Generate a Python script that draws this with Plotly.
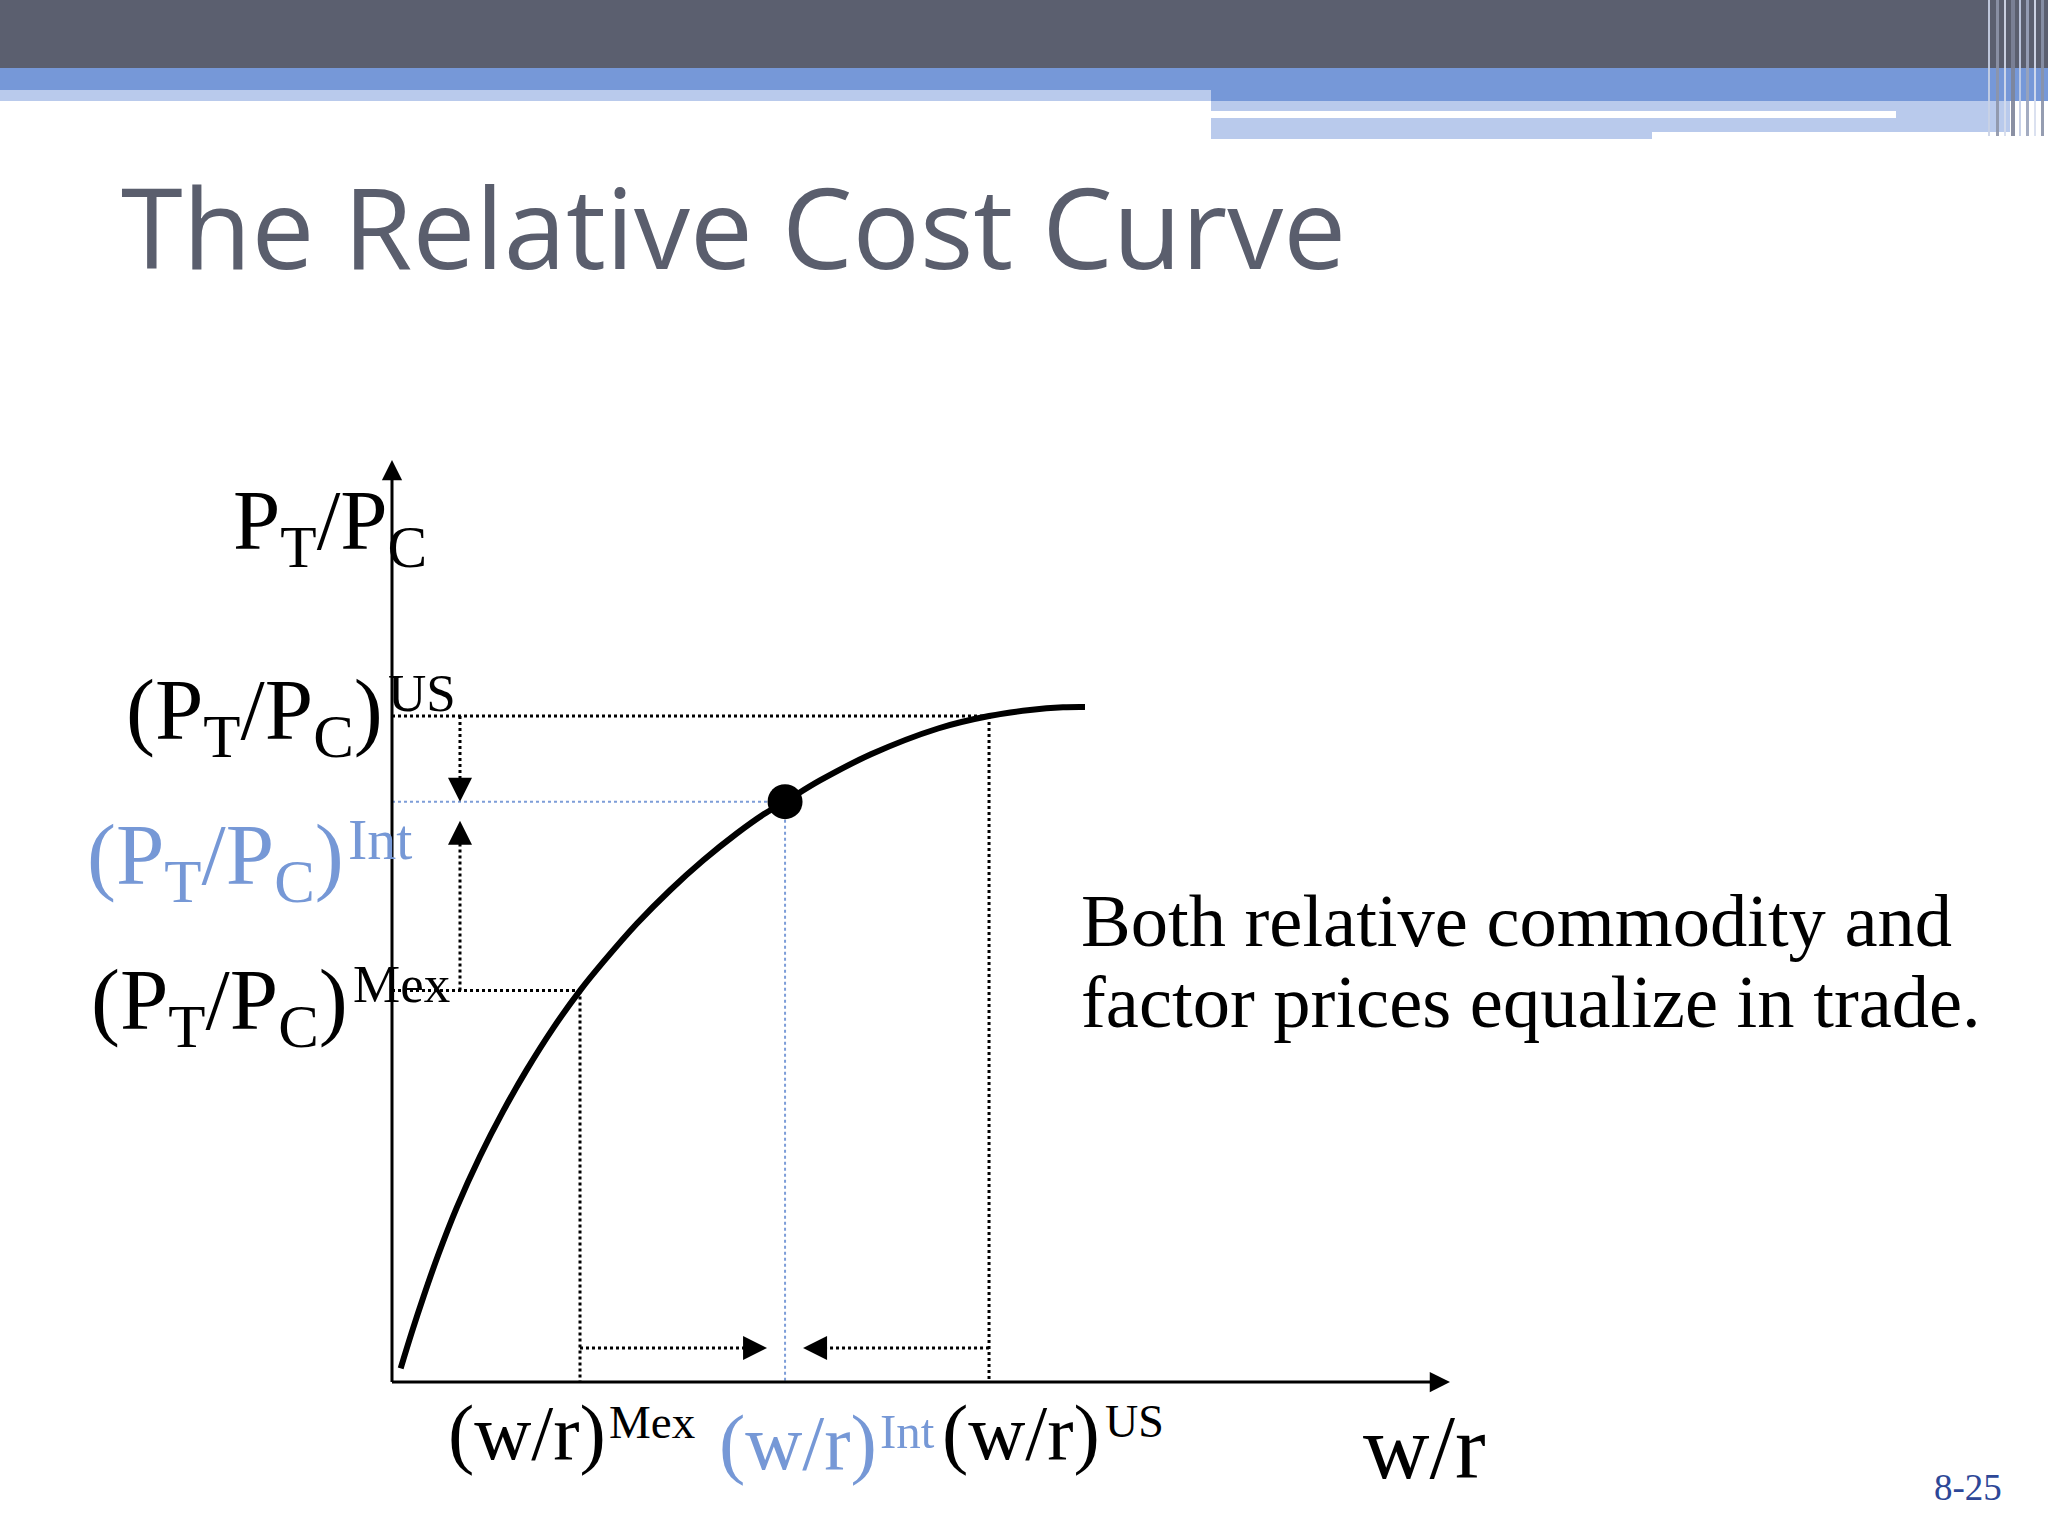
import plotly.graph_objects as go

W, H = 2048, 1536

# ---------------- data (logical units: w/r on x, PT/PC on y) ----------------
curve_wr = [0.082, 0.186, 0.296, 0.438, 0.612, 0.832, 1.052, 1.273, 1.525, 1.777,
            1.997, 2.313, 2.628, 2.942, 3.258, 3.509, 3.715, 4.045, 4.527, 5.161,
            5.643, 6.030, 6.342, 6.550]
curve_p = [0.149, 0.536, 0.920, 1.383, 1.892, 2.448, 2.940, 3.385, 3.841, 4.245,
           4.556, 4.970, 5.334, 5.659, 5.949, 6.154, 6.294, 6.524, 6.808, 7.088,
           7.223, 7.289, 7.318, 7.321]
countries = ["Mex", "Int", "US"]
wr_vals = [1.777, 3.715, 5.643]      # (w/r)^Mex, (w/r)^Int, (w/r)^US
p_vals = [4.245, 6.294, 7.223]       # (PT/PC)^Mex, (PT/PC)^Int, (PT/PC)^US
axis_max_wr = 10.0
axis_max_p = 10.0

title_text = "The Relative Cost Curve"
note_lines = ["Both relative commodity and", "factor prices equalize in trade."]
page_label = "8-25"

# ---------------- layout geometry ----------------
X0_PX, XMAX_PX = 392, 1450      # pixel of w/r = 0 and of w/r = axis_max
Y0_PX, YMAX_PX = 1382, 460      # pixel of PT/PC = 0 and of PT/PC = axis_max
kx = (XMAX_PX - X0_PX) / axis_max_wr
ky = (Y0_PX - YMAX_PX) / axis_max_p
x_range = [(0 - X0_PX) / kx, (W - X0_PX) / kx]
y_range = [(Y0_PX - H) / ky, Y0_PX / ky]


def dx(px):  # pixel distance -> data x distance
    return px / kx


def dy(px):
    return px / ky


def px_(x):  # pixel -> paper
    return x / W


def py_(y):
    return 1 - y / H


wr_mex, wr_int, wr_us = wr_vals
p_mex, p_int, p_us = p_vals

BLACK = "#000000"
BLUE = "#7698d6"
BLUE_LINE = "#7d9dd8"
DARK = "#5b5f6f"
MID = "#7698d8"
LIGHT = "#b9caec"

fig = go.Figure()

# curve
fig.add_trace(go.Scatter(x=curve_wr, y=curve_p, mode="lines",
                         line=dict(color=BLACK, width=6, shape="spline", smoothing=1.0),
                         hoverinfo="skip", showlegend=False))
# equilibrium point
fig.add_trace(go.Scatter(x=[wr_int], y=[p_int], mode="markers",
                         marker=dict(color=BLACK, size=35, line=dict(width=0)),
                         hoverinfo="skip", showlegend=False))

shapes = []


def dline(x0, y0, x1, y1, color=BLACK, width=3, dash="dot"):
    shapes.append(dict(type="line", xref="x", yref="y", x0=x0, y0=y0, x1=x1, y1=y1,
                       line=dict(color=color, width=width, dash=dash), layer="below"))


# dotted guide lines
dline(0, p_us, wr_us, p_us)
dline(wr_us, p_us, wr_us, 0)
dline(0, p_mex, wr_mex, p_mex)
dline(wr_mex, p_mex, wr_mex, 0)
dline(0, p_int, wr_int, p_int, color=BLUE_LINE, width=2)
dline(wr_int, p_int, wr_int, 0, color=BLUE_LINE, width=2)

# arrow shafts (dotted)
arr_x = dx(68)
arr_y = dy(34)
up_tip = p_int - dy(19)
right_tip = wr_int - dx(18)
left_tip = wr_int + dx(18)
dline(arr_x, p_us, arr_x, p_int + dy(12))
dline(arr_x, p_mex, arr_x, up_tip - dy(12))
dline(wr_mex, arr_y, right_tip - dx(12), arr_y)
dline(wr_us, arr_y, left_tip + dx(12), arr_y)

# axes lines
shapes.append(dict(type="line", xref="x", yref="y", x0=0, y0=0, x1=0, y1=axis_max_p - dy(10),
                   line=dict(color=BLACK, width=3)))
shapes.append(dict(type="line", xref="x", yref="y", x0=0, y0=0, x1=axis_max_wr - dx(10), y1=0,
                   line=dict(color=BLACK, width=3)))


# ---------------- banner ----------------
def rect(x0, y0, x1, y1, color, opacity=1.0):
    shapes.append(dict(type="rect", xref="paper", yref="paper",
                       x0=px_(x0), x1=px_(x1), y0=py_(y1), y1=py_(y0),
                       fillcolor=color, line=dict(width=0), opacity=opacity, layer="above"))


rect(0, 0, W, 68, DARK)
rect(0, 68, 1211, 90, MID)
rect(0, 90, 1211, 101, LIGHT)
rect(1211, 68, W, 101, MID)
rect(1211, 101, 2010, 111, LIGHT)
rect(1896, 111, 2010, 132, LIGHT)
rect(1652, 118, 1896, 132, LIGHT)
rect(1211, 118, 1652, 139, LIGHT)
# thin vertical stripes at the right edge
for sx, sw, col, op in [(1988, 2, "#c9d2e6", 0.9), (1996, 3, "#8e95a8", 0.9),
                        (2004, 2, "#d5dcec", 0.9), (2011, 4, "#7d8499", 0.9),
                        (2019, 2, "#c3cde5", 0.9), (2026, 3, "#9aa3ba", 0.9),
                        (2034, 2, "#d7deee", 0.9), (2041, 3, "#8a92a8", 0.9)]:
    rect(sx, 0, sx + sw, 136, col, op)

# ---------------- annotations ----------------
ann = []


def arrowhead(x, y, ax, ay, width=3, size=1.2):
    ann.append(dict(x=x, y=y, xref="x", yref="y", ax=ax, ay=ay, text="",
                    showarrow=True, arrowhead=2, arrowwidth=width, arrowsize=size,
                    arrowcolor=BLACK, standoff=0))


# axis arrows
arrowhead(0, axis_max_p, 0, 18, width=3, size=1.35)
arrowhead(axis_max_wr, 0, -18, 0, width=3, size=1.35)
# dotted-arrow heads
arrowhead(arr_x, p_int, 0, -16, width=2, size=2.4)
arrowhead(arr_x, up_tip, 0, 16, width=2, size=2.4)
arrowhead(right_tip, arr_y, -16, 0, width=2, size=2.4)
arrowhead(left_tip, arr_y, 16, 0, width=2, size=2.4)

SERIF = "Liberation Serif, Times New Roman, serif"


def label(text, x, y, size, color=BLACK, xanchor="right", family=SERIF):
    ann.append(dict(text=text, x=px_(x), y=py_(y), xref="paper", yref="paper",
                    xanchor=xanchor, yanchor="middle", showarrow=False,
                    font=dict(family=family, size=size, color=color),
                    borderpad=0, borderwidth=0, align="left"))


PT_PC = "P<sub>T</sub>/P<sub>C</sub>"
label(PT_PC, 427, 526, 85)
# (PT/PC) labels on the vertical axis: main part + superscript
label("(" + PT_PC + ")", 383, 715, 87)
label(countries[2], 388, 693, 53, xanchor="left")
label("(" + PT_PC + ")", 344, 860, 87, color=BLUE)
label(countries[1], 348, 839, 58, color=BLUE, xanchor="left")
label("(" + PT_PC + ")", 348, 1005, 87)
label(countries[0], 353, 984, 53, xanchor="left")

# (w/r) labels on the horizontal axis
label("(w/r)", 448, 1432, 79, xanchor="left")
label(countries[0], 609, 1422, 47, xanchor="left")
label("(w/r)", 719, 1442, 79, color=BLUE, xanchor="left")
label(countries[1], 880, 1431, 49, color=BLUE, xanchor="left")
label("(w/r)", 942, 1432, 79, xanchor="left")
label(countries[2], 1105, 1421, 46, xanchor="left")
label("w/r", 1363, 1447, 92, xanchor="left")

label(note_lines[0], 1081, 921, 74.5, xanchor="left")
label(note_lines[1], 1081, 1002, 74.5, xanchor="left")

label(page_label, 1934, 1487, 37, color="#2d4797", xanchor="left")
label(title_text, 121, 225, 112, color="#5a5e6d", xanchor="left",
      family="Open Sans, Noto Sans, sans-serif")

fig.update_layout(
    width=W, height=H,
    margin=dict(l=0, r=0, t=0, b=0),
    paper_bgcolor="white", plot_bgcolor="white",
    xaxis=dict(range=x_range, visible=False, fixedrange=True, domain=[0, 1]),
    yaxis=dict(range=y_range, visible=False, fixedrange=True, domain=[0, 1]),
    shapes=shapes, annotations=ann, showlegend=False,
)

fig.write_html(
    "out.html",
    config={"displayModeBar": False},
    post_script="document.body.style.margin='0';document.body.style.padding='0';"
                "document.documentElement.style.overflow='hidden';",
)
